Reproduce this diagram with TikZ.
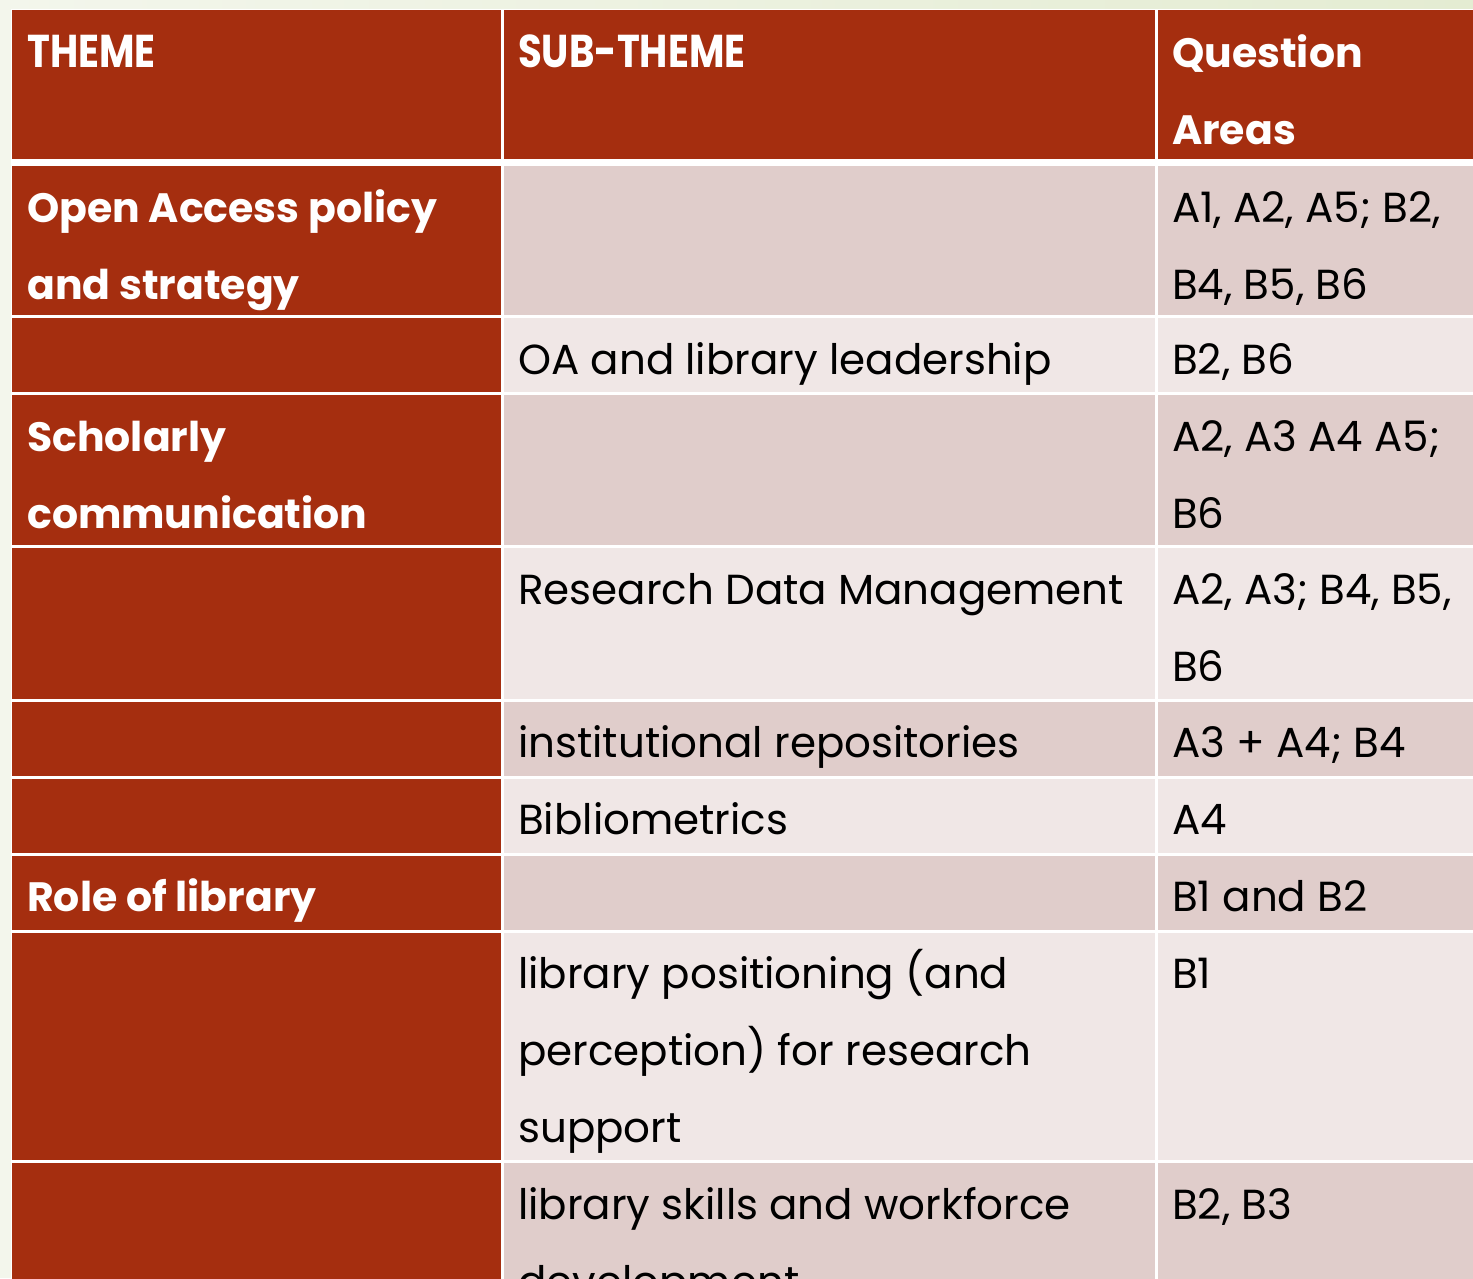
\documentclass[tikz,border=0pt]{standalone}
\usepackage{fontspec}
\setmainfont{Poppins}
\newfontfamily\condfont[FakeStretch=0.84]{Poppins}
\definecolor{bgc}{HTML}{F3F6EC}
\definecolor{bgg}{HTML}{E4ECD2}
\definecolor{darkred}{HTML}{A52E0F}
\definecolor{rowA}{HTML}{E0CDCB}
\definecolor{rowB}{HTML}{F0E7E6}
\tikzset{
  body/.style={anchor=base west, inner sep=0pt, font=\fontsize{42}{48}\selectfont, text=black},
  bold/.style={anchor=base west, inner sep=0pt, font=\fontsize{41}{48}\selectfont\bfseries, text=white},
  cond/.style={anchor=base west, inner sep=0pt, font=\fontsize{46}{48}\selectfont\condfont\bfseries, text=white},
}
\begin{document}
\begin{tikzpicture}[x=1pt,y=-1pt]
\useasboundingbox (0,0) rectangle (1473,1278);
\clip (0,0) rectangle (1473,1278);
\fill[bgc] (0,0) rectangle (1473,1278);
\shade[left color=bgc, right color=bgg] (0,0) rectangle (1473,10);
% table background (gaps)
\fill[white] (11,9) rectangle (1473,1278);
% column 1
\foreach \a/\b in {10/159,166/315,318/392,395/545,548/699,702/776,779/853,856/930,933/1160,1163/1300}
  \fill[darkred] (12,\a) rectangle (501,\b);
% header
\fill[darkred] (504,10) rectangle (1155,159);
\fill[darkred] (1158,10) rectangle (1473,159);
% body rows
\foreach \a/\b/\c in {166/315/rowA,318/392/rowB,395/545/rowA,548/699/rowB,702/776/rowA,779/853/rowB,856/930/rowA,933/1160/rowB,1163/1300/rowA}{
  \fill[\c] (504,\a) rectangle (1155,\b);
  \fill[\c] (1158,\a) rectangle (1473,\b);
}
% header text
\node[cond] (h1) at (27,67) {THEME};
\node[cond] (h2) at (518,67) {SUB-THEME};
\node[bold] (h3a) at (1172,67) {Question};
\node[bold] (h3b) at (1172,144) {Areas};
% row 1
\node[bold] (r1a) at (27,222) {Open Access policy};
\node[bold] (r1b) at (27,299) {and strategy};
\node[body] (q1a) at (1172,222) {A1, A2, A5; B2,};
\node[body] (q1b) at (1172,299) {B4, B5, B6};
% row 2
\node[body] (s2) at (518,374) {OA and library leadership};
\node[body] (q2) at (1172,374) {B2, B6};
% row 3
\node[bold] (r3a) at (27,451) {Scholarly};
\node[bold] (r3b) at (27,528) {communication};
\node[body] (q3a) at (1172,451) {A2, A3 A4 A5;};
\node[body] (q3b) at (1172,528) {B6};
% row 4
\node[body] (s4) at (518,604) {Research Data Management};
\node[body] (q4a) at (1172,604) {A2, A3; B4, B5,};
\node[body] (q4b) at (1172,681) {B6};
% row 5
\node[body] (s5) at (518,757) {institutional repositories};
\node[body] (q5) at (1172,757) {A3 + A4; B4};
% row 6
\node[body] (s6) at (518,834) {Bibliometrics};
\node[body] (q6) at (1172,834) {A4};
% row 7
\node[bold] (r7) at (27,911) {Role of library};
\node[body] (q7) at (1172,911) {B1 and B2};
% row 8
\node[body] (s8a) at (518,988) {library positioning (and};
\node[body] (s8b) at (518,1065) {perception) for research};
\node[body] (s8c) at (518,1142) {support};
\node[body] (q8) at (1172,988) {B1};
% row 9
\node[body] (s9a) at (518,1219) {library skills and workforce};
\node[body] (s9b) at (518,1296) {development};
\node[body] (q9) at (1172,1219) {B2, B3};
\end{tikzpicture}
\end{document}
